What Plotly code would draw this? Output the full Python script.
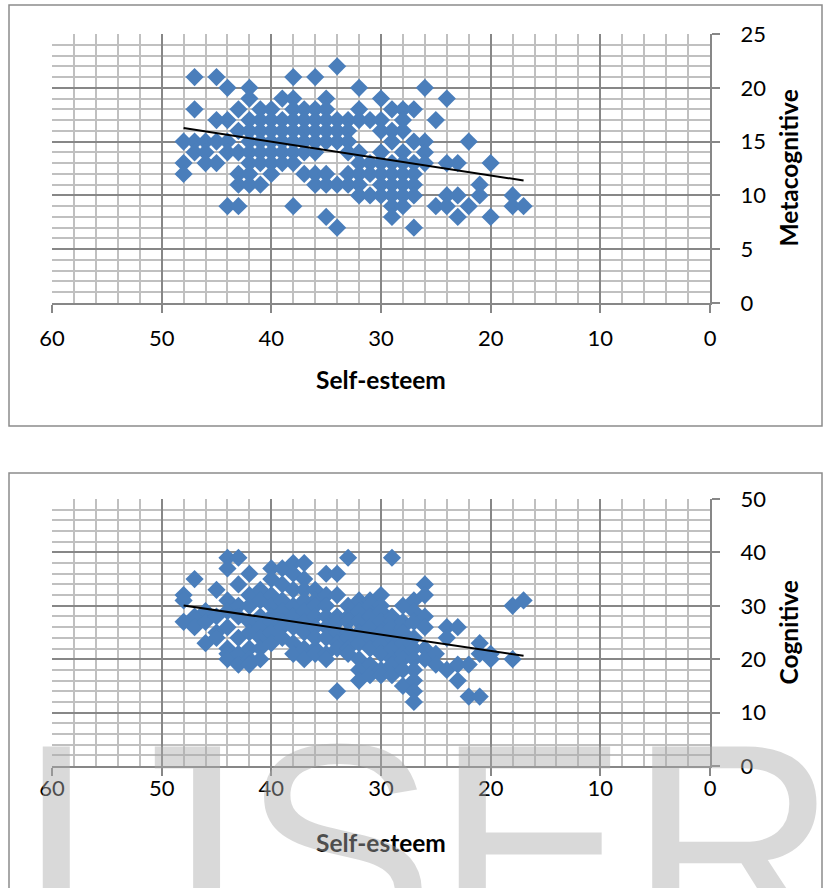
import numpy as np
import plotly.graph_objects as go

# Self-esteem (x) against Metacognitive score (y)
meta_self = [
    34,
    47, 45, 38, 36,
    44, 42, 32, 26,
    42, 39, 38, 35, 30, 24,
    47, 43, 41, 40, 38, 37, 36, 35, 32, 29, 28, 27,
    45, 44, 42, 41, 40, 39, 38, 37, 36, 35, 34, 33, 32, 31, 30, 28, 25,
    43, 42, 41, 40, 39, 38, 37, 36, 35, 34, 33, 30, 29, 28,
    48, 47, 46, 45, 44, 42, 41, 40, 39, 38, 37, 36, 35, 34, 33, 29, 27, 26, 22,
    47, 46, 44, 43, 42, 41, 40, 39, 38, 37, 36, 33, 32, 30, 28, 26,
    48, 46, 45, 42, 41, 40, 39, 38, 32, 31, 30, 29, 28, 27, 26, 24, 23, 20,
    48, 43, 42, 40, 37, 36, 35, 33, 32, 31, 30, 29, 28, 27,
    43, 42, 41, 36, 35, 34, 33, 32, 30, 29, 28, 27, 21,
    32, 31, 30, 29, 28, 27, 24, 23, 21, 18,
    44, 43, 38, 29, 28, 25, 24, 22, 18, 17,
    35, 29, 23, 20,
    34, 27,
]
meta_score = (
    [22] * 1 + [21] * 4 + [20] * 4 + [19] * 6 + [18] * 12 + [17] * 17 + [16] * 14
    + [15] * 19 + [14] * 16 + [13] * 18 + [12] * 14 + [11] * 13 + [10] * 10
    + [9] * 10 + [8] * 4 + [7] * 2
)

# Self-esteem (x) against Cognitive score (y)
cog_self = (
    [48] * 3 + [47] * 3 + [46] * 3 + [45] * 4 + [44] * 8 + [43] * 7 + [42] * 8
    + [41] * 7 + [40] * 8 + [39] * 7 + [38] * 8 + [37] * 9 + [36] * 8 + [35] * 8
    + [34] * 8 + [33] * 8 + [32] * 8 + [31] * 8 + [30] * 9 + [29] * 9 + [28] * 9
    + [27] * 10 + [26] * 6 + [25] * 2 + [24] * 3 + [23] * 3 + [22] * 2 + [21] * 3
    + [20] * 2 + [18] * 2 + [17] * 1
)
cog_score = [
    32, 31, 27,
    35, 28, 26,
    29, 27, 23,
    33, 28, 25, 24,
    39, 37, 31, 29, 26, 22, 21, 20,
    39, 34, 30, 28, 24, 21, 19,
    36, 32, 30, 27, 25, 22, 20, 19,
    33, 31, 28, 26, 24, 22, 20,
    37, 35, 32, 30, 28, 27, 25, 23,
    37, 34, 31, 29, 27, 26, 24,
    38, 36, 33, 30, 28, 26, 23, 21,
    38, 35, 33, 31, 29, 27, 25, 22, 20,
    33, 31, 30, 28, 26, 24, 22, 21,
    36, 32, 30, 28, 26, 24, 21, 20,
    36, 32, 28, 27, 25, 23, 22, 14,
    39, 30, 28, 27, 25, 24, 22, 21,
    31, 29, 27, 25, 23, 20, 18, 16,
    31, 30, 28, 26, 24, 22, 19, 17,
    32, 30, 29, 27, 25, 23, 21, 18, 17,
    39, 28, 27, 26, 24, 22, 20, 19, 17,
    30, 27, 26, 25, 23, 21, 20, 18, 15,
    31, 29, 27, 24, 22, 20, 18, 16, 14, 12,
    34, 32, 28, 26, 22, 20,
    21, 19,
    26, 24, 18,
    26, 19, 16,
    19, 13,
    23, 21, 13,
    21, 20,
    30, 20,
    31,
]

x_ticks = [60, 50, 40, 30, 20, 10, 0]
meta_ticks = [0, 5, 10, 15, 20, 25]
cog_ticks = [0, 10, 20, 30, 40, 50]

W, H = 823, 888
FONT = "Lato, Carlito, Calibri, sans-serif"
MARKER = "#4a7ebb"
MAJOR = "#878787"
MINOR = "#c0c0c0"


def px_x(p):
    return p / W


def px_y(p):
    return 1 - p / H


def trend(xs, ys):
    k, b = np.polyfit(xs, ys, 1)
    xx = np.array([min(xs), max(xs)], dtype=float)
    return xx, k * xx + b


fig = go.Figure()

panels = [
    dict(xs=meta_self, ys=meta_score, ticks=meta_ticks, minor=1,
         top=34, bottom=303, title="Metacognitive", box=(5, 426), xpad=7),
    dict(xs=cog_self, ys=cog_score, ticks=cog_ticks, minor=2,
         top=499, bottom=766, title="Cognitive", box=(473, 900), xpad=-6),
]

left, right = 52, 710
shapes, annotations = [], []
for i, p in enumerate(panels, start=1):
    xa = "x" if i == 1 else f"x{i}"
    ya = "y" if i == 1 else f"y{i}"
    fig.add_trace(go.Scatter(
        x=p["xs"], y=p["ys"], mode="markers", xaxis=xa, yaxis=ya,
        marker=dict(symbol="diamond", size=14, color=MARKER, line=dict(width=0)),
        showlegend=False, hoverinfo="skip",
    ))
    tx, ty = trend(p["xs"], p["ys"])
    fig.add_trace(go.Scatter(
        x=tx, y=ty, mode="lines", xaxis=xa, yaxis=ya,
        line=dict(color="black", width=2), showlegend=False, hoverinfo="skip",
    ))

    axis_common = dict(
        showline=True, linecolor=MAJOR, linewidth=2,
        ticks="outside", ticklen=8, tickcolor=MAJOR, tickwidth=2,
        showgrid=True, gridcolor=MAJOR, gridwidth=2,
        zeroline=False, automargin=False,
        tickfont=dict(family=FONT, size=22, color="black"),
        fixedrange=True,
    )
    fig.layout[f"xaxis{i if i > 1 else ''}"] = dict(
        axis_common,
        domain=[px_x(left), px_x(right)], anchor=ya,
        range=[60, 0], tickvals=x_ticks,
        minor=dict(dtick=2, showgrid=True, gridcolor=MINOR, gridwidth=2),
        ticklabelstandoff=p["xpad"],
    )
    fig.layout[f"yaxis{i if i > 1 else ''}"] = dict(
        axis_common,
        domain=[px_y(p["bottom"]), px_y(p["top"])], anchor=xa, side="right",
        range=[0, p["ticks"][-1]], tickvals=p["ticks"],
        minor=dict(dtick=p["minor"], showgrid=True, gridcolor=MINOR, gridwidth=2),
        ticklabelstandoff=16,
    )

    # chart frame
    shapes.append(dict(
        type="rect", xref="paper", yref="paper", layer="below",
        x0=px_x(9), x1=px_x(822), y0=px_y(p["box"][1]), y1=px_y(p["box"][0]),
        line=dict(color="#8c8c8c", width=1.5), fillcolor="white",
    ))
    # axis titles
    annotations.append(dict(
        text="<b>Self-esteem</b>", xref="paper", yref="paper",
        x=px_x((left + right) / 2), y=px_y(p["bottom"] + 76),
        showarrow=False, xanchor="center", yanchor="middle",
        font=dict(family=FONT, size=24.5, color="black"),
    ))
    annotations.append(dict(
        text=f"<b>{p['title']}</b>", xref="paper", yref="paper",
        x=px_x(788), y=px_y((p["top"] + p["bottom"]) / 2), textangle=-90,
        showarrow=False, xanchor="center", yanchor="middle",
        font=dict(family=FONT, size=24.5, color="black"),
    ))

# watermark
annotations.append(dict(
    text="IJSER", xref="paper", yref="paper", x=px_x(427), y=px_y(681),
    xanchor="center", yanchor="top", showarrow=False,
    font=dict(family="Liberation Sans, Arial, sans-serif", size=290,
              color="rgba(170,170,170,0.45)"),
))

fig.update_layout(
    width=W, height=H, margin=dict(l=0, r=0, t=0, b=0),
    paper_bgcolor="white", plot_bgcolor="white",
    shapes=shapes, annotations=annotations,
)

fig.write_html("out.html")
